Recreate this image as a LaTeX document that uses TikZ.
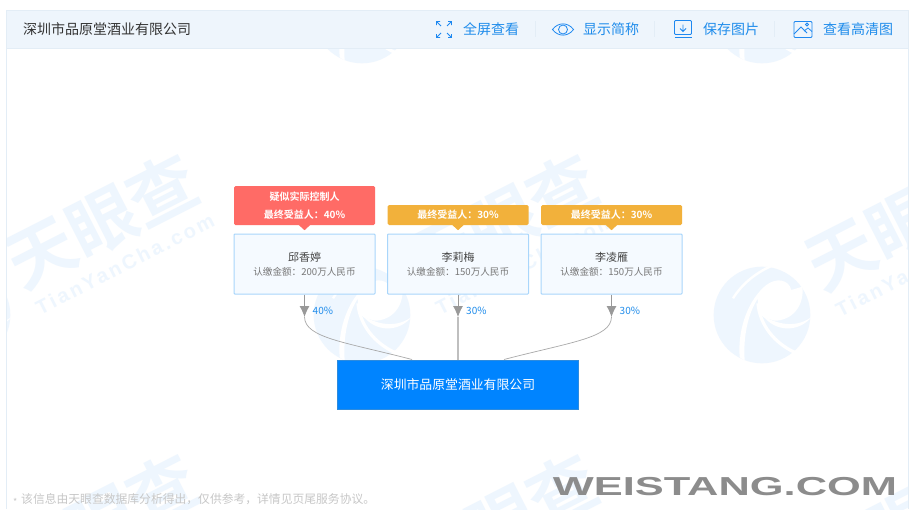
\documentclass[tikz,border=0pt]{standalone}
\usepackage{fontspec}
\setmainfont{Noto Sans CJK SC}
\newfontfamily\cjkbold{Noto Sans CJK SC Bold}
\newfontfamily\latinwm[LetterSpace=14]{Liberation Sans Bold}
\newfontfamily\widefont{Liberation Sans Bold}
\usetikzlibrary{arrows.meta,calc}
\definecolor{wm}{HTML}{EEF6FE}
\definecolor{panelline}{HTML}{E3EDF6}
\definecolor{headbg}{HTML}{EEF5FC}
\definecolor{iconblue}{HTML}{1E88F0}
\definecolor{linkblue}{HTML}{1F8CEB}
\definecolor{boxline}{HTML}{A9D6FB}
\definecolor{boxbg}{HTML}{F5FAFF}
\definecolor{redtag}{HTML}{FF6B66}
\definecolor{ambertag}{HTML}{F2B13B}
\definecolor{coblue}{HTML}{0084FF}
\definecolor{coline}{HTML}{2E8BDD}
\definecolor{arrowgray}{HTML}{999999}
\tikzset{
  x=1pt,y=-1pt,
  wmcn/.style={text=wm,font=\cjkbold\fontsize{68}{68}\selectfont,rotate=27,inner sep=0},
  wmen/.style={text=wm,font=\latinwm\fontsize{20}{20}\selectfont,rotate=27,inner sep=0},
  toplink/.style={text=linkblue,font=\fontsize{14}{15}\selectfont,inner sep=0,anchor=west},
  iconline/.style={draw=iconblue,line width=0.8pt},
  holder/.style={draw=boxline,line width=1pt,fill=boxbg,minimum width=141pt,minimum height=60pt,inner sep=0,align=center,rounded corners=0.8pt},
  tagbox/.style={minimum width=141pt,inner sep=0,align=center,rounded corners=1.5pt,text=white,font=\cjkbold\fontsize{10}{18.5}\selectfont},
  pct/.style={text=linkblue,font=\fontsize{10}{12}\selectfont,inner sep=0,anchor=west},
  flow/.style={draw=arrowgray!85,line width=0.7pt},
  feed/.style={draw=arrowgray,line width=0.8pt,-{Latex[length=11pt,width=10pt]}},
}
\newcommand{\holdertext}[2]{{\fontsize{11}{13}\selectfont\color[HTML]{444444}#1}\\[2pt]{\fontsize{9.6}{12}\selectfont\color[HTML]{777777}#2}}
\newcommand{\wmgroup}[2]{%
  \node[wmcn] at (#1,#2) {天眼查};
  \node[wmen] at (#1+23,#2+43) {TianYanCha.com};
}
\newcommand{\wmlogo}[2]{%
  \begin{scope}[shift={(#1-70.67,#2-65)},x=0.3333pt,y=-0.3333pt]
    \fill[wm] (212,195) circle (145pt*0.3333);
    \draw[white,line width=2.4pt] (125,145) .. controls (150,105) and (190,70) .. (240,48);
    \fill[white] (300,120) .. controls (292,88) and (255,82) .. (225,105)
      .. controls (175,145) and (138,230) .. (145,322) -- (160,332)
      .. controls (155,260) and (170,190) .. (200,145)
      .. controls (198,175) and (205,195) .. (218,203)
      -- (250,212) .. controls (300,212) and (340,170) .. (333,110) -- cycle;
    \draw[white,line width=3.2pt] (200,160) .. controls (205,225) and (250,280) .. (312,308);
    \fill[white] (215,197) .. controls (250,245) and (320,250) .. (362,200)
      .. controls (320,232) and (265,228) .. (215,197) -- cycle;
  \end{scope}
}
\begin{document}
\begin{tikzpicture}
\useasboundingbox (0,0) rectangle (910,509);
\fill[white] (0,0) rectangle (910,509);
% watermark
\begin{scope}
  \clip (6,10) rectangle (908,509);
  \wmgroup{102}{221}\wmgroup{502}{221}\wmgroup{902}{223}
  \wmgroup{102}{521}\wmgroup{502}{521}\wmgroup{902}{523}
  \wmlogo{-38}{315}\wmlogo{362}{315}\wmlogo{762}{315}
  \wmlogo{362}{15}\wmlogo{762}{15}
\end{scope}
% panel
\draw[panelline,line width=1pt] (6,509) -- (6,10) -- (908,10) -- (908,509);
\fill[headbg] (6.5,10.5) rectangle (907.5,48);
\draw[panelline,line width=0.8pt] (6,48.5) -- (908,48.5);
\node[anchor=west,inner sep=0,text=black!80,font=\fontsize{14}{16}\selectfont] (title) at (23,29) {深圳市品原堂酒业有限公司};
% header links
\node[toplink] (l1) at (463,29) {全屏查看};
\node[toplink] (l2) at (583,29) {显示简称};
\node[toplink] (l3) at (703,29) {保存图片};
\node[toplink] (l4) at (823,29) {查看高清图};
\foreach \sx in {535,654.5,774.5}{\draw[panelline,line width=0.7pt] (\sx,21) -- (\sx,37);}
% expand icon
\begin{scope}[iconline]
  \draw (436.5,25) -- (436.5,21.5) -- (440,21.5) (436.5,21.5) -- (441,26);
  \draw (448,21.5) -- (451.5,21.5) -- (451.5,25) (451.5,21.5) -- (447,26);
  \draw (436.5,34) -- (436.5,37.5) -- (440,37.5) (436.5,37.5) -- (441,33);
  \draw (448,37.5) -- (451.5,37.5) -- (451.5,34) (451.5,37.5) -- (447,33);
  % eye icon
  \draw (552.5,29.5) .. controls (558,22) and (568,22) .. (573.5,29.5) .. controls (568,37) and (558,37) .. (552.5,29.5) -- cycle;
  \draw (563,29.5) circle (4.5);
  % save icon
  \draw[rounded corners=1pt] (674.5,34.5) -- (674.5,20.5) -- (691.5,20.5) -- (691.5,34.5) -- cycle;
  \draw (674.5,37) -- (691.5,37);
  \draw (683,24.5) -- (683,31.5) (680,28.5) -- (683,31.5) -- (686,28.5);
  % picture icon
  \draw[rounded corners=1pt] (794,21.5) rectangle (812,37.5);
  \draw (794,34) -- (801,27) -- (807,33) (804,31) -- (808,28) -- (812,31.5);
  \draw (807,24.5) circle (1.5);
\end{scope}
% holders
\node[holder] (h1) at (304.5,264) {\holdertext{邱香婷}{认缴金额：200万人民币}};
\node[holder] (h2) at (458,264) {\holdertext{李莉梅}{认缴金额：150万人民币}};
\node[holder] (h3) at (611.5,264) {\holdertext{李凌雁}{认缴金额：150万人民币}};
% tags
\node[tagbox,fill=redtag,minimum height=39pt] (t1) at (304.5,205.5) {疑似实际控制人\\最终受益人：40\%};
\node[tagbox,fill=ambertag,minimum height=20pt] (t2) at (458,215) {最终受益人：30\%};
\node[tagbox,fill=ambertag,minimum height=20pt] (t3) at (611.5,215) {最终受益人：30\%};
\fill[redtag] ($(t1.south)+(-6,-0.5)$) -- ($(t1.south)+(6,-0.5)$) -- ($(t1.south)+(0,5)$) -- cycle;
\fill[ambertag] ($(t2.south)+(-6,-0.5)$) -- ($(t2.south)+(6,-0.5)$) -- ($(t2.south)+(0,5)$) -- cycle;
\fill[ambertag] ($(t3.south)+(-6,-0.5)$) -- ($(t3.south)+(6,-0.5)$) -- ($(t3.south)+(0,5)$) -- cycle;
% company
\node[draw=coline,line width=1pt,fill=coblue,minimum width=241pt,minimum height=49pt,inner sep=0,text=white,font=\fontsize{12.85}{15}\selectfont] (co) at (458,384.5) {深圳市品原堂酒业有限公司};
% connectors
\coordinate (a1) at (304.5,317);
\coordinate (a2) at (458,317);
\coordinate (a3) at (611.5,317);
\coordinate (j1) at ($(co.north)+(-46,0)$);
\coordinate (j3) at ($(co.north)+(46,0)$);
\draw[feed] (h1.south) -- (a1);
\draw[feed] (h2.south) -- (a2);
\draw[feed] (h3.south) -- (a3);
\draw[flow] (a1) .. controls (305,338) and (345,342) .. (j1);
\draw[draw=black!25,line width=1.6pt] (a2) -- (co.north);
\draw[flow] (a3) .. controls (611,338) and (571,342) .. (j3);
\node[pct] (p1) at (312.5,310.5) {40\%};
\node[pct] (p2) at (466,310.5) {30\%};
\node[pct] (p3) at (619.5,310.5) {30\%};
% footer
\node[anchor=west,inner sep=0,text=black!22,font=\fontsize{9}{9}\selectfont] (star) at (13,502) {*};
\node[anchor=west,inner sep=0,text=black!22,font=\fontsize{11.8}{13}\selectfont] (note) at (21,499) {该信息由天眼查数据库分析得出，仅供参考，详情见页尾服务协议。};
\node[anchor=center,inner sep=0,text=black!45,font=\widefont\fontsize{26}{26}\selectfont,xscale=1.67] (brand) at (725,487) {WEISTANG.COM};
\end{tikzpicture}
\end{document}
